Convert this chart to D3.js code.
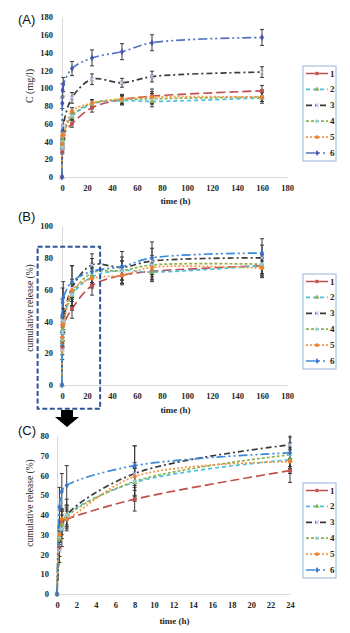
<!DOCTYPE html>
<html>
<head>
<meta charset="utf-8">
<script src="https://cdn.jsdelivr.net/npm/d3@7"></script>
<style>
  body { margin: 0; background: #fff; }
  svg { display: block; }
</style>
</head>
<body>
<svg id="chart" width="350" height="633"></svg>
<script>
// ------------------ data ------------------ //
const seriesNames = ["1", "2", "3", "4", "5", "6"];
const timePoints = [0, 0.25, 0.5, 1, 8, 24, 48, 72, 160];

// (A) concentration C (mg/l)
const conc1 = [0, 29, 46, 48, 60, 78, 87, 91, 97];
const conc2 = [0, 34, 42, 48, 68, 82, 86, 85, 89];
const conc3 = [0, 32, 48, 58, 89, 110, 106, 113, 118];
const conc4 = [0, 35, 39, 46, 69, 83, 87, 88, 90];
const conc5 = [0, 37, 47, 47, 74, 83, 88, 90, 90];
const conc6 = [0, 83, 98, 104, 122, 134, 141, 151, 157];
const concErr1 = [0, 3, 4, 4, 4, 5, 5, 8, 6];
const concErr2 = [0, 3, 4, 4, 4, 5, 5, 6, 6];
const concErr3 = [0, 4, 5, 6, 6, 6, 5, 6, 6];
const concErr4 = [0, 3, 4, 4, 4, 4, 5, 6, 5];
const concErr5 = [0, 3, 4, 4, 4, 4, 5, 6, 5];
const concErr6 = [0, 6, 7, 8, 8, 9, 9, 9, 9];

// (B) / (C) cumulative release (%)
const rel1 = [0, 23, 37, 38, 48, 62.5, 69, 71.5, 75];
const rel2 = [0, 28, 35, 40, 56.5, 68, 72, 71, 75];
const rel3 = [0, 22, 33, 40, 61, 75.5, 74, 78, 80];
const rel4 = [0, 29, 33, 39, 57, 70.5, 72, 75.5, 76];
const rel5 = [0, 30, 38, 38, 59.5, 67, 69, 74, 73.5];
const rel6 = [0, 44, 52, 55, 65, 71.5, 74.5, 80, 83];
const relErr1 = [0, 4, 5, 4, 6, 6, 5, 5, 5];
const relErr2 = [0, 4, 5, 5, 7, 6, 6, 6, 6];
const relErr3 = [0, 6, 9, 8, 14, 7, 10, 12, 12];
const relErr4 = [0, 4, 5, 5, 7, 6, 6, 6, 6];
const relErr5 = [0, 4, 5, 5, 7, 6, 6, 6, 6];
const relErr6 = [0, 10, 9, 10, 10, 8, 6, 6, 5];

const ticksA = [0, 20, 40, 60, 80, 100, 120, 140, 160, 180];
const ticksC_x = [0, 2, 4, 6, 8, 10, 12, 14, 16, 18, 20, 22, 24];
const ticksB_y = [0, 20, 40, 60, 80, 100];
const ticksC_y = [0, 10, 20, 30, 40, 50, 60, 70, 80];

// ------------------ styles ------------------ //
const lineColors = ["#c0504d", "#4bc0e0", "#3a3a3a", "#8fb04f", "#f79646", "#3d8ad6"];
const markerColors = ["#c0504d", "#8fb04f", "#b8c6e4", "#8fd0e0", "#f07f2a", "#3d72c4"];
const dashes = ["9,4", "4,3", "6,3,2,3", "3,2", "2,2", "9,3,2,3,2,3"];
const symbols = [d3.symbolSquare, d3.symbolTriangle, d3.symbolTimes, d3.symbolAsterisk, d3.symbolCircle, d3.symbolDiamond];
const strokeSymbols = [false, false, true, true, false, false];

const svg = d3.select("#chart");
const serif = "'Liberation Serif', 'DejaVu Serif', serif";
let clipId = 0;

function drawPanel(cfg) {
    const g = svg.append("g");
    const x = d3.scaleLinear().domain(cfg.xDomain).range(cfg.xRange);
    const y = d3.scaleLinear().domain(cfg.yDomain).range(cfg.yRange);

    // axes
    const xAxis = g.append("g")
        .attr("transform", `translate(0,${cfg.yRange[0]})`)
        .call(d3.axisBottom(x).tickValues(cfg.xTicks).tickSize(0).tickPadding(8));
    const yAxis = g.append("g")
        .attr("transform", `translate(${cfg.xRange[0]},0)`)
        .call(d3.axisLeft(y).tickValues(cfg.yTicks).tickSize(0).tickPadding(cfg.yPad));
    [xAxis, yAxis].forEach(a => {
        a.select(".domain").attr("stroke", "#d9d9d9");
        a.selectAll("text")
            .style("font-family", serif)
            .style("font-weight", "bold")
            .style("font-size", "8.5px")
            .attr("fill", "#262626");
    });

    // clip to plot area
    const id = "clip" + (clipId++);
    g.append("clipPath").attr("id", id)
        .append("rect")
        .attr("x", cfg.xRange[0] - 6)
        .attr("y", cfg.yRange[1] - 1)
        .attr("width", cfg.xRange[1] - cfg.xRange[0] + 12)
        .attr("height", cfg.yRange[0] - cfg.yRange[1] + 6);
    const plot = g.append("g").attr("clip-path", `url(#${id})`);

    const line = d3.line()
        .x(d => x(d.t))
        .y(d => y(d.v))
        .curve(d3.curveCatmullRom.alpha(0.5));

    cfg.series.forEach((s, i) => {
        const pts = timePoints.map((t, k) => ({ t, v: s.values[k], e: s.errors[k] }))
            .filter(d => d.t <= cfg.xDomain[1]);

        // error bars
        const eb = plot.append("g").attr("stroke", "#3a3a3a").attr("stroke-width", 1);
        pts.filter(d => d.e > 0).forEach(d => {
            const cx = x(d.t);
            eb.append("line").attr("x1", cx).attr("x2", cx).attr("y1", y(d.v - d.e)).attr("y2", y(d.v + d.e));
            eb.append("line").attr("x1", cx - 2).attr("x2", cx + 2).attr("y1", y(d.v - d.e)).attr("y2", y(d.v - d.e));
            eb.append("line").attr("x1", cx - 2).attr("x2", cx + 2).attr("y1", y(d.v + d.e)).attr("y2", y(d.v + d.e));
        });

        const color = (i === 5 && cfg.color6) ? cfg.color6 : lineColors[i];
        plot.append("path")
            .datum(pts)
            .attr("fill", "none")
            .attr("stroke", color)
            .attr("stroke-width", 1.7)
            .attr("stroke-dasharray", dashes[i])
            .attr("d", line);

        s.pts = pts;
        s.color = color;
    });

    // markers on top
    cfg.series.forEach((s, i) => {
        const mColor = (i === 5 && cfg.marker6) ? cfg.marker6 : markerColors[i];
        plot.selectAll(null)
            .data(s.pts)
            .join("path")
            .attr("transform", d => `translate(${x(d.t)},${y(d.v)})`)
            .attr("d", d3.symbol().type(symbols[i]).size(14))
            .attr("fill", strokeSymbols[i] ? "none" : mColor)
            .attr("stroke", strokeSymbols[i] ? mColor : "none")
            .attr("stroke-width", 1.1);
    });

    // axis titles
    g.append("text")
        .attr("x", (cfg.xRange[0] + cfg.xRange[1]) / 2 + 1)
        .attr("y", cfg.xTitleY)
        .attr("text-anchor", "middle")
        .style("font-family", serif)
        .style("font-weight", "bold")
        .style("font-size", "9px")
        .attr("fill", "#262626")
        .text("time (h)");

    g.append("text")
        .attr("transform", `translate(33,${cfg.yTitleY}) rotate(-90)`)
        .attr("text-anchor", "middle")
        .style("font-family", serif)
        .style("font-size", cfg.yTitleSize)
        .attr("fill", "#262626")
        .text(cfg.yTitle);

    g.append("text")
        .attr("x", 18)
        .attr("y", cfg.labelY)
        .style("font-family", "'Liberation Sans', Arial, sans-serif")
        .style("font-size", "13px")
        .attr("fill", "#111")
        .text(cfg.label);

    // legend
    const legend = g.append("g").attr("transform", `translate(303,${cfg.legendTop})`);
    legend.append("rect")
        .attr("width", 33)
        .attr("height", 95)
        .attr("fill", "#fff")
        .attr("stroke", "#95b3d7")
        .attr("stroke-width", 1);
    cfg.series.forEach((s, i) => {
        const ly = 7.5 + i * 15.9;
        const row = legend.append("g").attr("transform", `translate(0,${ly})`);
        row.append("line")
            .attr("x1", 3).attr("x2", 25)
            .attr("stroke", s.color)
            .attr("stroke-width", 1.7)
            .attr("stroke-dasharray", dashes[i]);
        const mColor = (i === 5 && cfg.marker6) ? cfg.marker6 : markerColors[i];
        row.append("path")
            .attr("transform", "translate(14,0)")
            .attr("d", d3.symbol().type(symbols[i]).size(11))
            .attr("fill", strokeSymbols[i] ? "none" : mColor)
            .attr("stroke", strokeSymbols[i] ? mColor : "none")
            .attr("stroke-width", 1.1);
        row.append("text")
            .attr("x", 27)
            .attr("y", 3)
            .style("font-family", serif)
            .style("font-weight", "bold")
            .style("font-size", "9px")
            .attr("fill", "#262626")
            .text(seriesNames[i]);
    });

    return { x, y, g };
}

// ------------------ (A) ------------------ //
const concVals = [conc1, conc2, conc3, conc4, conc5, conc6];
const concErrs = [concErr1, concErr2, concErr3, concErr4, concErr5, concErr6];
drawPanel({
    label: "(A)", labelY: 24,
    xDomain: [0, 180], xRange: [62, 287],
    yDomain: [0, 180], yRange: [177, 17],
    xTicks: ticksA, yTicks: ticksA, yPad: 9,
    xTitleY: 204, yTitle: "C (mg/l)", yTitleY: 86, yTitleSize: "10px",
    legendTop: 66,
    color6: "#5474c0", marker6: "#4b55b0",
    series: concVals.map((v, i) => ({ values: v, errors: concErrs[i] }))
});

// ------------------ (B) ------------------ //
const relVals = [rel1, rel2, rel3, rel4, rel5, rel6];
const relErrs = [relErr1, relErr2, relErr3, relErr4, relErr5, relErr6];
const panelB = drawPanel({
    label: "(B)", labelY: 221,
    xDomain: [0, 180], xRange: [62, 287],
    yDomain: [0, 100], yRange: [385, 226],
    xTicks: ticksA, yTicks: ticksB_y, yPad: 9,
    xTitleY: 413, yTitle: "cumulative release (%)", yTitleY: 308, yTitleSize: "9.5px",
    legendTop: 274,
    series: relVals.map((v, i) => ({ values: v, errors: relErrs[i] }))
});

// dashed zoom box around the first 24 h
panelB.g.append("rect")
    .attr("x", panelB.x(-19.5))
    .attr("y", panelB.y(87))
    .attr("width", panelB.x(30.5) - panelB.x(-19.5))
    .attr("height", panelB.y(-15) - panelB.y(87))
    .attr("fill", "none")
    .attr("stroke", "#2f5597")
    .attr("stroke-width", 2)
    .attr("stroke-dasharray", "5,2.5");

// arrow down to (C)
svg.append("path")
    .attr("d", "M61,410 H73 V417 H79 L67,427 L55,417 H61 Z")
    .attr("fill", "#000");

// ------------------ (C) ------------------ //
drawPanel({
    label: "(C)", labelY: 435,
    xDomain: [0, 24], xRange: [57, 290],
    yDomain: [0, 80], yRange: [594, 436],
    xTicks: ticksC_x, yTicks: ticksC_y, yPad: 8,
    xTitleY: 624, yTitle: "cumulative release (%)", yTitleY: 503, yTitleSize: "9.5px",
    legendTop: 483,
    series: relVals.map((v, i) => ({ values: v, errors: relErrs[i] }))
});
</script>
</body>
</html>
